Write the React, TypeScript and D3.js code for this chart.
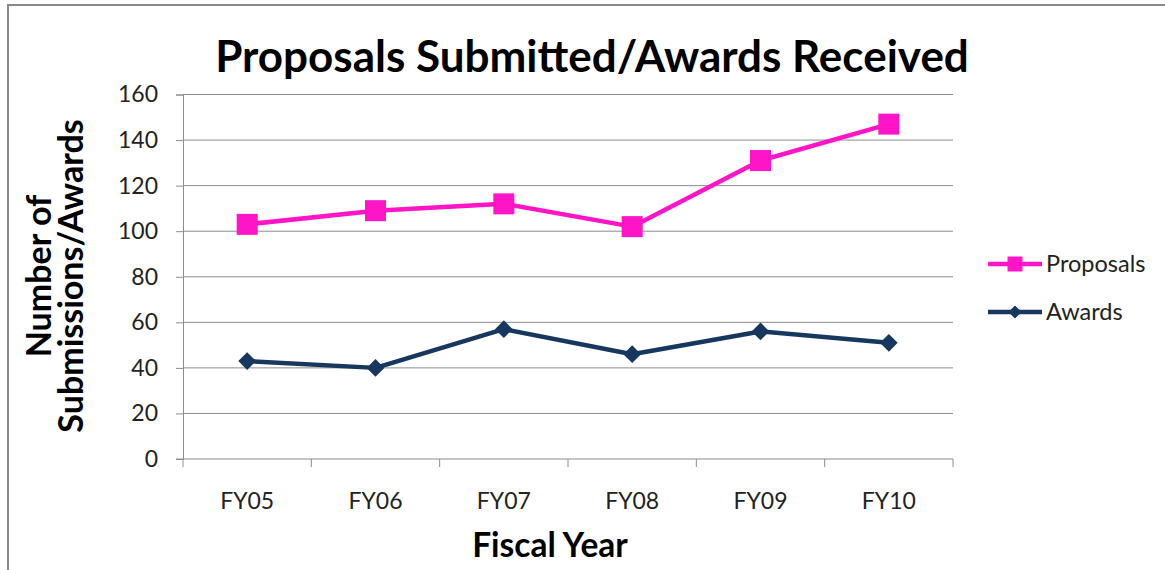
import React, { useEffect, useRef } from 'react'
import * as d3 from 'd3'

const years = ['FY05', 'FY06', 'FY07', 'FY08', 'FY09', 'FY10']
const proposals = [103, 109, 112, 102, 131, 147]
const awards = [43, 40, 57, 46, 56, 51]
const yTicks = [0, 20, 40, 60, 80, 100, 120, 140, 160]

const W = 1165
const H = 570
const PINK = '#ff14c8'
const NAVY = '#17375e'
const FONT = 'Lato, "Open Sans", sans-serif'

export default function App() {
  const svgRef = useRef<SVGSVGElement>(null)

  useEffect(() => {
    if (!svgRef.current) return
    const svg = d3.select(svgRef.current)
    svg.selectAll('*').remove()

    const plot = { left: 183, right: 953, top: 94.5, bottom: 459 }

    const x = d3.scaleBand().domain(years).range([plot.left, plot.right])
    const y = d3.scaleLinear().domain([0, 160]).range([plot.bottom, plot.top])

    // outer frame
    svg.append('rect')
      .attr('x', 8).attr('y', 5)
      .attr('width', W + 20).attr('height', H + 20)
      .attr('fill', 'white').attr('stroke', '#888').attr('stroke-width', 2)

    // title
    svg.append('text')
      .attr('x', 592).attr('y', 72)
      .attr('text-anchor', 'middle')
      .attr('font-family', FONT).attr('font-weight', 'bold').attr('font-size', 44)
      .attr('fill', '#000')
      .text('Proposals Submitted/Awards Received')

    // gridlines
    svg.append('g')
      .selectAll('line')
      .data(yTicks.slice(1))
      .join('line')
      .attr('x1', plot.left).attr('x2', plot.right)
      .attr('y1', d => y(d)).attr('y2', d => y(d))
      .attr('stroke', '#8c8c8c').attr('stroke-width', 1)

    // y axis
    const yAxis = svg.append('g')
      .attr('transform', `translate(${plot.left},0)`)
      .call(d3.axisLeft(y).tickValues(yTicks).tickSize(7).tickPadding(18))
    yAxis.selectAll('path, line').attr('stroke', '#8c8c8c')
    yAxis.selectAll('text')
      .attr('font-family', FONT).attr('font-size', 23).attr('fill', '#222')

    // x axis
    const xTickPos = [...years.map(d => x(d) as number), plot.right]
    const xAxis = svg.append('g')
    xAxis.append('line')
      .attr('x1', plot.left - 7).attr('x2', plot.right)
      .attr('y1', plot.bottom).attr('y2', plot.bottom)
      .attr('stroke', '#8c8c8c')
    xAxis.selectAll('line.tick')
      .data(xTickPos)
      .join('line')
      .attr('class', 'tick')
      .attr('x1', d => d).attr('x2', d => d)
      .attr('y1', plot.bottom).attr('y2', plot.bottom + 8)
      .attr('stroke', '#8c8c8c')
    xAxis.selectAll('text')
      .data(years)
      .join('text')
      .attr('x', d => (x(d) as number) + x.bandwidth() / 2)
      .attr('y', 509)
      .attr('text-anchor', 'middle')
      .attr('font-family', FONT).attr('font-size', 23).attr('fill', '#222')
      .text(d => d)

    // axis titles
    svg.append('text')
      .attr('x', 550).attr('y', 557)
      .attr('text-anchor', 'middle')
      .attr('font-family', FONT).attr('font-weight', 'bold').attr('font-size', 33.5)
      .text('Fiscal Year')

    const yTitle = svg.append('text')
      .attr('transform', 'translate(0,276) rotate(-90)')
      .attr('text-anchor', 'middle')
      .attr('font-family', FONT).attr('font-weight', 'bold').attr('font-size', 34)
    yTitle.append('tspan').attr('x', 0).attr('y', 51).text('Number of')
    yTitle.append('tspan').attr('x', 0).attr('y', 83).text('Submissions/Awards')

    const cx = (d: string) => (x(d) as number) + x.bandwidth() / 2
    const line = d3.line<number>().x((_, i) => cx(years[i])).y(d => y(d))

    // proposals
    svg.append('path')
      .datum(proposals)
      .attr('d', line)
      .attr('fill', 'none').attr('stroke', PINK).attr('stroke-width', 4.5)
      .attr('stroke-linejoin', 'round')
    svg.append('g')
      .selectAll('rect')
      .data(proposals)
      .join('rect')
      .attr('x', (_, i) => cx(years[i]) - 10.5)
      .attr('y', d => y(d) - 10.5)
      .attr('width', 21).attr('height', 21)
      .attr('fill', PINK)

    // awards
    const diamond = d3.symbol().type(d3.symbolDiamond2).size(200)
    svg.append('path')
      .datum(awards)
      .attr('d', line)
      .attr('fill', 'none').attr('stroke', NAVY).attr('stroke-width', 4.5)
      .attr('stroke-linejoin', 'round')
    svg.append('g')
      .selectAll('path')
      .data(awards)
      .join('path')
      .attr('d', diamond)
      .attr('transform', (d, i) => `translate(${cx(years[i])},${y(d)})`)
      .attr('fill', NAVY)

    // legend
    const legend = svg.append('g')
    const items = [
      { name: 'Proposals', color: PINK, y: 264, marker: 'square' },
      { name: 'Awards', color: NAVY, y: 312, marker: 'diamond' },
    ]
    items.forEach(it => {
      legend.append('line')
        .attr('x1', 988).attr('x2', 1042)
        .attr('y1', it.y).attr('y2', it.y)
        .attr('stroke', it.color).attr('stroke-width', 4.5)
      if (it.marker === 'square') {
        legend.append('rect')
          .attr('x', 1015 - 7.5).attr('y', it.y - 7.5)
          .attr('width', 15).attr('height', 15)
          .attr('fill', it.color)
      } else {
        legend.append('path')
          .attr('d', d3.symbol().type(d3.symbolDiamond2).size(110)())
          .attr('transform', `translate(1015,${it.y})`)
          .attr('fill', it.color)
      }
      legend.append('text')
        .attr('x', 1046).attr('y', it.y + 8)
        .attr('font-family', FONT).attr('font-size', 23.5).attr('fill', '#222')
        .text(it.name)
    })
  }, [])

  return (
    <svg
      ref={svgRef}
      width={W}
      height={H}
      style={{ position: 'absolute', left: 0, top: 0, display: 'block' }}
    />
  )
}
